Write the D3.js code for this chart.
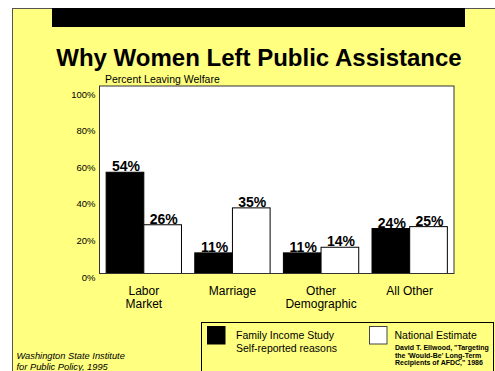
<!DOCTYPE html>
<html><head><meta charset="utf-8">
<script src="https://cdn.jsdelivr.net/npm/d3@7/dist/d3.min.js"></script>
<style>html,body{margin:0;padding:0;background:#fff;}svg{display:block;font-family:"Liberation Sans",Arial,sans-serif;}</style>
</head><body>
<script>
const categories = [["Labor","Market"],["Marriage"],["Other","Demographic"],["All Other"]];
const seriesNames = ["Family Income Study", "National Estimate"];
const familyIncome = [54, 11, 11, 24];
const nationalEstimate = [26, 35, 14, 25];
const yTicks = [0, 20, 40, 60, 80, 100];

(function () {
const W = 495, H = 371;
const svg = d3.select("body").append("svg").attr("width", W).attr("height", H);

// slide background
svg.append("rect").attr("x", 12.5).attr("y", 8.5).attr("width", W).attr("height", H)
  .attr("fill", "#ffff80").attr("stroke", "#555").attr("stroke-width", 1);
svg.append("rect").attr("x", 52).attr("y", 8).attr("width", 413).attr("height", 19).attr("fill", "#000");

svg.append("text").attr("x", 259).attr("y", 66).attr("text-anchor", "middle")
  .attr("font-size", 24).attr("font-weight", "bold").text("Why Women Left Public Assistance");
svg.append("text").attr("x", 105).attr("y", 82.5).attr("font-size", 10.5).text("Percent Leaving Welfare");

const pLeft = 99.5, pRight = 454, pTop = 86, pBottom = 273.5;
const x = d3.scaleBand().domain(d3.range(categories.length)).range([pLeft, pRight]).paddingInner(0.15).paddingOuter(0.075);
const y = d3.scaleLinear().domain([0, 100]).range([pBottom, pTop]);
const yLabel = d3.scaleLinear().domain([0, 100]).range([pBottom + 3.5, pTop + 8]);

svg.append("rect").attr("x", pLeft).attr("y", pTop).attr("width", pRight - pLeft).attr("height", pBottom - pTop)
  .attr("fill", "#fff").attr("stroke", "#333").attr("stroke-width", 1);

// y tick labels
const ya = d3.axisLeft(yLabel).tickValues(yTicks).tickFormat(d => d + "%").tickSize(0).tickPadding(4);
const yg = svg.append("g").attr("transform", `translate(${pLeft},0)`).call(ya);
yg.select(".domain").remove();
yg.selectAll("text").attr("font-size", 9.5).attr("font-family", "Liberation Sans, Arial, sans-serif").attr("fill", "#000");

const bw = x.bandwidth() / 2;
const data = categories.map((c, i) => ({i, vals: [familyIncome[i], nationalEstimate[i]]}));
const g = svg.append("g");
data.forEach(d => {
  d.vals.forEach((v, s) => {
    const bx = x(d.i) + s * bw;
    g.append("rect").attr("x", bx).attr("y", y(v)).attr("width", bw).attr("height", pBottom - y(v))
      .attr("fill", s === 0 ? "#000" : "#fff").attr("stroke", "#000").attr("stroke-width", 1);
    g.append("text").attr("x", bx + bw / 2 + 1).attr("y", y(v) - 1).attr("text-anchor", "middle")
      .attr("font-size", 14).attr("font-weight", "bold").text(v + "%");
  });
  categories[d.i].forEach((line, k) => {
    svg.append("text").attr("x", x(d.i) + x.bandwidth() / 2).attr("y", 295 + k * 13)
      .attr("text-anchor", "middle").attr("font-size", 12).text(line);
  });
});
svg.append("line").attr("x1", pLeft).attr("x2", pLeft).attr("y1", pTop).attr("y2", pBottom).attr("stroke", "#333");
svg.append("line").attr("x1", pLeft).attr("x2", pRight).attr("y1", pBottom).attr("y2", pBottom).attr("stroke", "#333");

// legend
svg.append("rect").attr("x", 201.5).attr("y", 322.5).attr("width", 292).attr("height", 60)
  .attr("fill", "none").attr("stroke", "#000").attr("stroke-width", 1);
svg.append("rect").attr("x", 207.5).attr("y", 326.5).attr("width", 17.5).attr("height", 17.5).attr("fill", "#000").attr("stroke", "#000");
svg.append("rect").attr("x", 369.5).attr("y", 326.5).attr("width", 17.5).attr("height", 17.5).attr("fill", "#fff").attr("stroke", "#444");
svg.append("text").attr("x", 236).attr("y", 338.5).attr("font-size", 10.5).text(seriesNames[0]);
svg.append("text").attr("x", 236).attr("y", 351.5).attr("font-size", 10.5).text("Self-reported reasons");
svg.append("text").attr("x", 394.5).attr("y", 339).attr("font-size", 10.5).text(seriesNames[1]);
const cite = ["David T. Ellwood, \"Targeting", "the 'Would-Be' Long-Term", "Recipients of AFDC,\" 1986"];
cite.forEach((t, k) => svg.append("text").attr("x", 395).attr("y", 350 + k * 7.7)
  .attr("font-size", 7).attr("font-weight", "bold").text(t));

svg.append("text").attr("x", 16.5).attr("y", 359).attr("font-size", 9.3).attr("font-style", "italic").text("Washington State Institute");
svg.append("text").attr("x", 16.5).attr("y", 369.5).attr("font-size", 9.3).attr("font-style", "italic").text("for Public Policy, 1995");
})();
</script>
</body></html>
